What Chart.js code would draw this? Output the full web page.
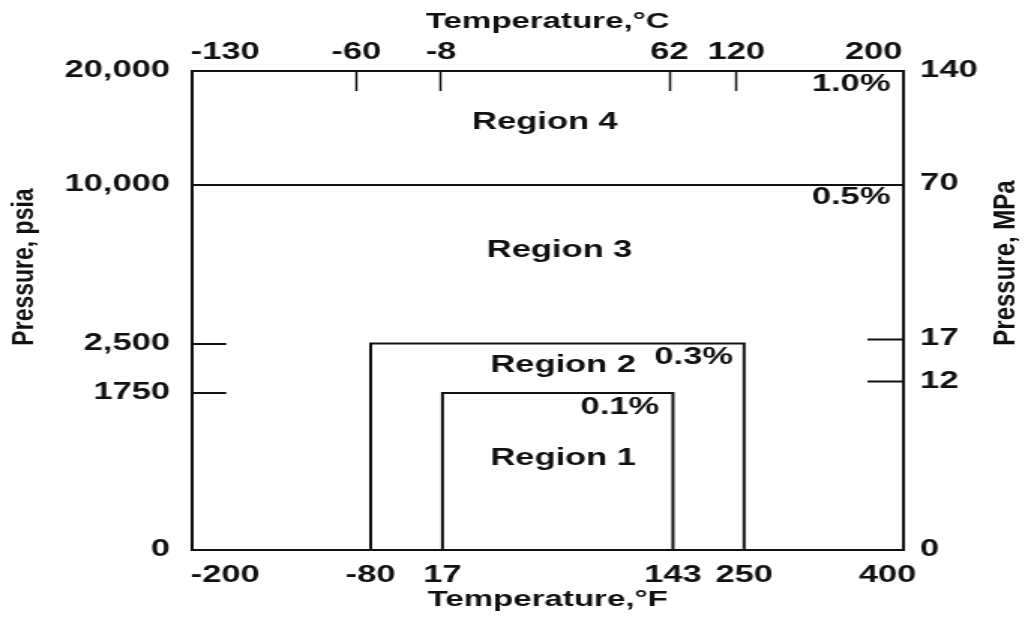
<!DOCTYPE html>
<html>
<head>
<meta charset="utf-8">
<script src="https://cdn.jsdelivr.net/npm/chart.js@4/dist/chart.umd.min.js"></script>
<style>
  html, body { margin: 0; padding: 0; background: #ffffff; }
  #c { display: block; width: 1025px; height: 617px; }
</style>
</head>
<body>
<canvas id="c" width="683" height="617" style="width:1025px;height:617px"></canvas>
<script>
// ---- data ----
const tempF = [-200, -80, 17, 143, 250, 400];
const tempC = [-130, -60, -8, 62, 120, 200];
const pressurePsia = [0, 1750, 2500, 10000, 20000];
const psiaLabels = ['0', '1750', '2,500', '10,000', '20,000'];
const pressureMPa = [0, 12, 17, 70, 140];

const envelopeNames = ['Region 1', 'Region 2'];
const envelopeTempLow = [17, -80];
const envelopeTempHigh = [143, 250];
const envelopePressureTop = [1750, 2500];
const region3Limit = 10000;

const labelTexts = ['Region 4', '1.0%', 'Region 3', '0.5%', 'Region 2', '0.3%', 'Region 1', '0.1%'];
const labelTemps = [73, 362, 81, 362, 83, 174, 83, 114];
const labelPressures = [15500, 18800, 6900, 9400, 2160, 2280, 1020, 1580];

const markedPsia = [1750, 2500];
const markedMPa = [12, 17];
const markedC = [-60, -8, 62, 120];

// ---- style ----
const ink = '#111111';
const clear = 'rgba(0,0,0,0)';
const family = '"Liberation Sans", Arial, Helvetica, sans-serif';
const tickFont = { family, weight: 'bold', size: 23, lineHeight: 1.2 };
const titleFont = { family, weight: 'bold', size: 22, lineHeight: 1.2 };

// Piecewise-linear axis (the original chart's axes are not uniformly spaced)
class PiecewiseScale extends Chart.LinearScale {
  static id = 'piecewise';
  static defaults = {};
  determineDataLimits() {
    const s = this.options.stops;
    this.min = s[0];
    this.max = s[s.length - 1];
  }
  buildTicks() {
    return this.options.stops.map(v => ({ value: v }));
  }
  _frac(v) {
    const s = this.options.stops, f = this.options.stopFractions;
    let i = 0;
    while (i < s.length - 2 && v > s[i + 1]) i++;
    return f[i] + (v - s[i]) * (f[i + 1] - f[i]) / (s[i + 1] - s[i]);
  }
  getPixelForValue(v) {
    if (v === null || v === undefined || isNaN(v)) return NaN;
    return this.getPixelForDecimal(this._frac(v));
  }
  getValueForPixel(p) {
    const d = this.getDecimalForPixel(p);
    const s = this.options.stops, f = this.options.stopFractions;
    let i = 0;
    while (i < f.length - 2 && d > f[i + 1]) i++;
    return s[i] + (d - f[i]) * (s[i + 1] - s[i]) / (f[i + 1] - f[i]);
  }
  drawTitle() {
    const o = this.options, t = o.title;
    if (!t.display) return;
    if (this.isHorizontal()) { super.drawTitle(); return; }
    const font = Chart.helpers.toFont(t.font);
    const ctx = this.ctx;
    const x = o.position === 'left' ? this.left + o.titleCenter : this.right - o.titleCenter;
    const y = (this.top + this.bottom) / 2 + o.titleShift;
    ctx.save();
    ctx.translate(x, y);
    ctx.rotate(-Math.PI / 2);
    ctx.scale(1, o.titleSquash);
    ctx.font = font.string;
    ctx.fillStyle = t.color;
    ctx.textAlign = 'center';
    ctx.textBaseline = 'middle';
    ctx.fillText(t.text, 0, 0);
    ctx.restore();
  }
}
Chart.register(PiecewiseScale);

const regionLabelPlugin = {
  id: 'regionLabels',
  afterDatasetsDraw(chart) {
    const { ctx } = chart;
    const xs = chart.scales.x, ys = chart.scales.y;
    ctx.save();
    ctx.font = 'bold 23px ' + family;
    ctx.fillStyle = ink;
    ctx.textAlign = 'center';
    ctx.textBaseline = 'middle';
    labelTexts.forEach((t, i) => {
      ctx.fillText(t, xs.getPixelForValue(labelTemps[i]), ys.getPixelForValue(labelPressures[i]));
    });
    ctx.restore();
  }
};

const datasets = envelopeNames.map((name, i) => ({
  label: name,
  data: [
    { x: envelopeTempLow[i], y: pressurePsia[0] },
    { x: envelopeTempLow[i], y: envelopePressureTop[i] },
    { x: envelopeTempHigh[i], y: envelopePressureTop[i] },
    { x: envelopeTempHigh[i], y: pressurePsia[0] }
  ],
  borderColor: ink,
  borderWidth: 2,
  borderJoinStyle: 'miter',
  pointRadius: 0,
  fill: false,
  tension: 0,
  xAxisID: 'x',
  yAxisID: 'y'
}));

new Chart(document.getElementById('c'), {
  type: 'line',
  data: { datasets },
  plugins: [regionLabelPlugin],
  options: {
    responsive: false,
    devicePixelRatio: 1,
    animation: false,
    layout: { padding: 0 },
    plugins: { legend: { display: false }, tooltip: { enabled: false } },
    scales: {
      x: {
        type: 'piecewise', position: 'bottom',
        stops: tempF,
        stopFractions: [0.0464, 0.251, 0.352, 0.676, 0.776, 0.9775],
        border: { display: true, color: ink, width: 2 },
        grid: { display: false, drawTicks: false },
        ticks: { autoSkip: false, maxRotation: 0, padding: 12.2, font: tickFont, color: ink, callback: v => String(v) },
        title: { display: true, text: 'Temperature,°F', font: titleFont, color: ink, padding: { top: 0, bottom: 4 } },
        afterFit: s => { s.height = 67; }
      },
      x2: {
        type: 'piecewise', position: 'top',
        stops: tempC,
        stopFractions: [0.0464, 0.2307, 0.350, 0.671, 0.765, 0.958],
        border: { display: true, color: ink, width: 2 },
        grid: {
          display: true, drawOnChartArea: false, drawTicks: true, tickLength: -20, tickWidth: 1.5,
          tickColor: c => (c.tick && markedC.includes(c.tick.value)) ? ink : clear
        },
        ticks: { autoSkip: false, maxRotation: 0, padding: 24.7, font: tickFont, color: ink, callback: v => String(v) },
        title: { display: true, text: 'Temperature,°C', font: titleFont, color: ink, padding: { top: 9, bottom: 0 } },
        afterFit: s => { s.height = 71; }
      },
      y: {
        type: 'piecewise', position: 'left',
        stops: pressurePsia,
        stopFractions: [0, 0.328, 0.431, 0.762, 1],
        border: { display: true, color: ink, width: 2 },
        grid: {
          display: true, drawOnChartArea: true, lineWidth: 2,
          color: c => (c.tick && c.tick.value === region3Limit) ? ink : clear,
          drawTicks: true, tickLength: -22.7, tickWidth: 2,
          tickColor: c => (c.tick && markedPsia.includes(c.tick.value)) ? ink : clear
        },
        ticks: { autoSkip: false, padding: 37.4, font: tickFont, color: ink, callback: (v, i) => psiaLabels[i] },
        title: { display: true, text: 'Pressure, psia', font: { family, weight: 'bold', size: 23 }, color: ink },
        titleCenter: 16.7, titleShift: -43.5, titleSquash: 0.85,
        afterFit: s => { s.width = 128; }
      },
      y2: {
        type: 'piecewise', position: 'right',
        stops: pressureMPa,
        stopFractions: [0, 0.351, 0.4405, 0.764, 1],
        border: { display: true, color: ink, width: 2 },
        grid: {
          display: true, drawOnChartArea: false,
          drawTicks: true, tickLength: -24, tickWidth: 2,
          tickColor: c => (c.tick && markedMPa.includes(c.tick.value)) ? ink : clear
        },
        ticks: { autoSkip: false, padding: 35.1, font: tickFont, color: ink, callback: v => String(v) },
        title: { display: true, text: 'Pressure, MPa', font: { family, weight: 'bold', size: 24 }, color: ink },
        titleCenter: 12.7, titleShift: -47.5, titleSquash: 0.85,
        afterFit: s => { s.width = 81; }
      }
    }
  }
});
</script>
</body>
</html>
